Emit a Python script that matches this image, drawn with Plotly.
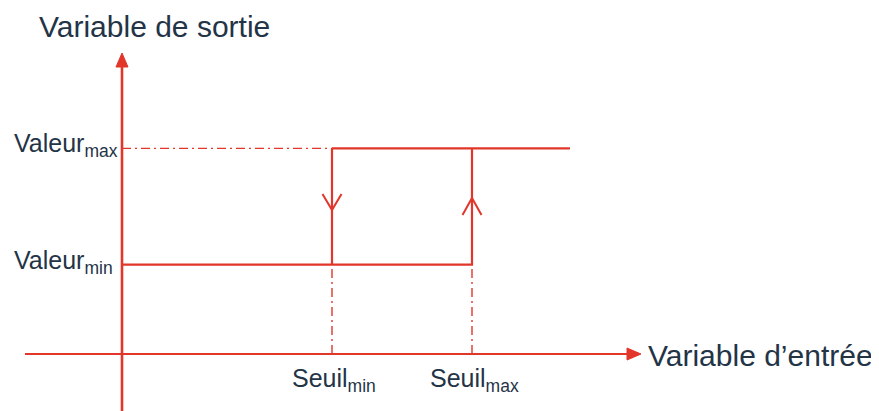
import plotly.graph_objects as go

# ---- data ----
seuils = [3.0, 5.0]                       # Seuil_min, Seuil_max (input variable)
seuil_labels = ["Seuil<sub>min</sub>", "Seuil<sub>max</sub>"]
valeurs = [2.0, 4.6]                      # Valeur_min, Valeur_max (output variable)
valeur_labels = ["Valeur<sub>min</sub>", "Valeur<sub>max</sub>"]
x_fin = 6.4                               # end of the upper branch
axis_titles = ["Variable d’entrée", "Variable de sortie"]

# ---- layout / scale (pixels per data unit) ----
PAGE_OFF = 8                 # default body margin of the html page
W, H = 879 - PAGE_OFF, 411 - PAGE_OFF
OX, OY = 122 - PAGE_OFF, 354 - PAGE_OFF   # pixel position of origin within figure
KX, KY = 70.0, 44.7          # px per unit
def dx(p): return p / KX
def dy(p): return p / KY

RED = "#E2362B"
TXT = "#233447"
FONT = "Liberation Sans, Arial, sans-serif"

xr = [-OX / KX, (W - OX) / KX]
yr = [-(H - OY) / KY, OY / KY]

smin, smax = seuils
vmin, vmax = valeurs

fig = go.Figure()

# axes lines
x_tip = dx(641 - 122)
y_tip = dy(354 - 53)
fig.add_trace(go.Scatter(x=[dx(25 - 122), x_tip - dx(12)], y=[0, 0], mode="lines",
                         line=dict(color=RED, width=2.2), hoverinfo="skip"))
fig.add_trace(go.Scatter(x=[0, 0], y=[yr[0] - 1, y_tip - dy(12)], mode="lines",
                         line=dict(color=RED, width=2.6), hoverinfo="skip"))
# axis arrowheads (filled)
fig.add_trace(go.Scatter(x=[x_tip, x_tip - dx(14), x_tip - dx(14), x_tip],
                         y=[0, dy(6), -dy(6), 0], mode="lines", fill="toself",
                         fillcolor=RED, line=dict(color=RED, width=1), hoverinfo="skip"))
fig.add_trace(go.Scatter(x=[0, -dx(6), dx(6), 0],
                         y=[y_tip, y_tip - dy(14), y_tip - dy(14), y_tip], mode="lines", fill="toself",
                         fillcolor=RED, line=dict(color=RED, width=1), hoverinfo="skip"))

# dash-dot guides
dd = "9px,4px,2px,4px"
fig.add_trace(go.Scatter(x=[0, smin], y=[vmax, vmax], mode="lines",
                         line=dict(color=RED, width=1.4, dash=dd), hoverinfo="skip"))
for s in seuils:
    fig.add_trace(go.Scatter(x=[s, s], y=[0, vmin], mode="lines",
                             line=dict(color=RED, width=1.4, dash=dd), hoverinfo="skip"))

# hysteresis loop
fig.add_trace(go.Scatter(x=[0, smax, smax, None, smin, x_fin, None, smin, smin],
                         y=[vmin, vmin, vmax, None, vmax, vmax, None, vmax, vmin],
                         mode="lines", line=dict(color=RED, width=2.2), hoverinfo="skip"))

# direction chevrons
mid = (vmin + vmax) / 2
t_down = mid - dy(3.5)
fig.add_trace(go.Scatter(x=[smin - dx(9.5), smin, smin + dx(9.5)],
                         y=[t_down + dy(16), t_down, t_down + dy(16)], mode="lines",
                         line=dict(color=RED, width=2), hoverinfo="skip"))
t_up = mid + dy(8.5)
fig.add_trace(go.Scatter(x=[smax - dx(9.5), smax, smax + dx(9.5)],
                         y=[t_up - dy(17), t_up, t_up - dy(17)], mode="lines",
                         line=dict(color=RED, width=2), hoverinfo="skip"))

ann = []
for v, lab in zip(valeurs, valeur_labels):
    ann.append(dict(x=dx(12 - 122), y=v + dy(3), text=lab, xanchor="left", yanchor="middle",
                    showarrow=False, font=dict(family=FONT, size=25, color=TXT)))
for s, lab in zip(seuils, seuil_labels):
    ann.append(dict(x=s + dx(2), y=-dy(26), text=lab, xanchor="center", yanchor="middle",
                    showarrow=False, font=dict(family=FONT, size=25, color=TXT)))
ann.append(dict(x=dx(646 - 122), y=dy(-1), text=axis_titles[0], xanchor="left", yanchor="middle",
                showarrow=False, font=dict(family=FONT, size=30, color=TXT)))
ann.append(dict(x=dx(37 - 122), y=dy(354 - 26), text=axis_titles[1], xanchor="left", yanchor="middle",
                showarrow=False, font=dict(family=FONT, size=30, color=TXT)))

fig.update_layout(
    width=W, height=H, autosize=False,
    margin=dict(l=0, r=0, t=0, b=0),
    paper_bgcolor="white", plot_bgcolor="white",
    showlegend=False,
    xaxis=dict(range=xr, visible=False, fixedrange=True),
    yaxis=dict(range=yr, visible=False, fixedrange=True),
    annotations=ann,
)

fig.write_html("out.html")
